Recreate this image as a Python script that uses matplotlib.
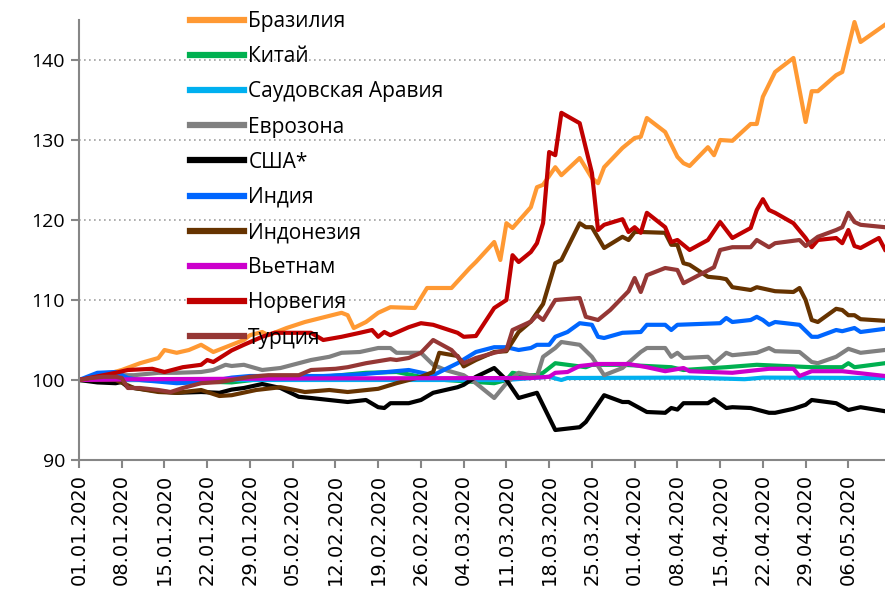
import datetime as dt

import matplotlib
matplotlib.use("Agg")
import matplotlib.pyplot as plt

# day offsets from 01.01.2020 and index values (01.01.2020 = 100)
start = dt.date(2020, 1, 1)

brazil_days = [0, 3, 7, 10, 13, 14, 16, 18, 20, 22, 25, 27, 28, 30, 31, 34, 37, 43, 44, 45,
               47, 49, 51, 55, 57, 61, 64, 65, 68, 69, 70, 71, 74, 75, 76, 78, 79, 82, 84, 85,
               86, 89, 91, 92, 93, 96, 98, 99, 100, 103, 104, 105, 107, 110, 111, 112, 114,
               117, 119, 120, 121, 124, 125, 127, 128, 132]
brazil_vals = [100, 100.4, 101.25, 102.1, 102.75, 103.75, 103.4, 103.75, 104.4, 103.5, 104.4,
               105, 105.6, 106, 105.6, 106.5, 107.25, 108.4, 108.1, 106.5, 107.25, 108.4, 109.1,
               109, 111.5, 111.5, 114, 114.75, 117.25, 115, 119.6, 119, 121.6, 124.1, 124.4,
               126.6, 125.6, 127.75, 125.25, 124.6, 126.6, 129, 130.25, 130.4, 132.75, 131,
               127.9, 127.1, 126.75, 129.1, 128.1, 130, 129.9, 132, 132, 135.4, 138.5, 140.25,
               132.25, 136.1, 136.1, 138.1, 138.5, 144.75, 142.25, 144.4]

china_days = [0, 10, 20, 25, 33, 40, 47, 52, 56, 60, 65, 68, 70, 71, 73, 75, 76, 78, 83, 84,
              89, 97, 99, 106, 111, 120, 125, 126, 127, 132]
china_vals = [100, 100, 99.8, 99.7, 100.4, 100.4, 100.9, 101, 100.4, 100, 99.75, 99.6, 100,
              100.9, 100.6, 100.6, 100.9, 102.1, 101.6, 101.9, 101.9, 101.6, 101.25, 101.6,
              101.9, 101.6, 101.6, 102.1, 101.6, 102.1]

saudi_days = [0, 40, 70, 75, 77, 79, 80, 100, 109, 112, 132]
saudi_vals = [100, 100, 100, 100.3, 100.4, 100, 100.25, 100.3, 100.1, 100.3, 100.25]

euro_days = [0, 6, 9, 13, 16, 20, 22, 24, 25, 27, 30, 33, 38, 41, 43, 46, 49, 51, 52, 56, 58,
             60, 63, 65, 68, 70, 72, 75, 76, 78, 79, 82, 84, 86, 89, 92, 93, 96, 97, 98, 99,
             103, 104, 106, 107, 111, 113, 114, 118, 120, 121, 124, 126, 128, 132]
euro_vals = [100, 100.6, 100.6, 100.9, 100.9, 101, 101.25, 101.9, 101.75, 101.9, 101.25, 101.5,
             102.5, 102.9, 103.4, 103.5, 104, 104, 103.4, 103.4, 101.9, 101.25, 100.6, 99.6,
             97.75, 99.6, 100.9, 100.4, 102.9, 104, 104.75, 104.4, 102.9, 100.6, 101.5, 103.5,
             104, 104, 102.9, 103.4, 102.75, 102.9, 102.1, 103.4, 103.1, 103.4, 104, 103.6,
             103.5, 102.25, 102.1, 102.9, 103.9, 103.4, 103.75]

usa_days = [0, 3, 6, 7, 8, 13, 16, 20, 23, 25, 27, 30, 33, 36, 38, 41, 44, 47, 49, 50, 51, 54,
            56, 58, 62, 63, 65, 68, 70, 72, 75, 78, 82, 83, 86, 89, 90, 93, 96, 97, 98, 99,
            103, 104, 106, 107, 110, 113, 114, 117, 119, 120, 124, 126, 128, 132]
usa_vals = [100, 99.7, 99.6, 99.75, 99.1, 98.6, 98.4, 98.5, 98.4, 98.8, 99, 99.5, 99, 97.9,
            97.75, 97.5, 97.25, 97.5, 96.6, 96.5, 97.1, 97.1, 97.5, 98.4, 99.1, 99.4, 100.4,
            101.5, 100, 97.75, 98.4, 93.75, 94.1, 94.75, 98.1, 97.25, 97.25, 96, 95.9, 96.5,
            96.3, 97.1, 97.1, 97.6, 96.5, 96.6, 96.5, 95.9, 95.9, 96.4, 96.9, 97.5, 97.1,
            96.25, 96.6, 96.1]

india_days = [0, 3, 6, 8, 10, 16, 21, 25, 28, 35, 40, 46, 49, 54, 58, 62, 65, 68, 70, 72, 74,
              75, 77, 78, 80, 82, 84, 85, 86, 89, 92, 93, 96, 97, 98, 105, 106, 107, 110, 111,
              112, 113, 114, 118, 120, 121, 124, 125, 127, 128, 132]
india_vals = [100, 100.9, 101, 100.25, 100, 99.6, 99.75, 100.3, 100.5, 100.5, 100.5, 100.7,
              100.9, 101.25, 100.6, 102.1, 103.5, 104.1, 104.1, 103.75, 104, 104.4, 104.4, 105.4,
              106, 107.1, 106.9, 105.4, 105.25, 105.9, 106, 106.9, 106.9, 106.25, 106.9, 107.1,
              107.75, 107.25, 107.5, 107.9, 107.5, 106.9, 107.25, 106.9, 105.4, 105.4, 106.25,
              106.1, 106.5, 106, 106.4]

indonesia_days = [0, 3, 6, 9, 13, 16, 20, 23, 25, 29, 33, 37, 41, 44, 49, 52, 56, 58, 59, 62,
                  63, 65, 68, 70, 72, 74, 76, 78, 79, 82, 83, 84, 86, 89, 90, 91, 92, 96, 97,
                  98, 99, 100, 103, 105, 106, 107, 110, 111, 114, 117, 118, 119, 120, 121, 124,
                  125, 126, 127, 128, 132]
indonesia_vals = [100, 100, 100, 99, 98.5, 98.4, 98.75, 98, 98.1, 98.75, 99.1, 98.5, 98.75,
                  98.5, 98.9, 99.6, 100.4, 101, 103.4, 103, 101.7, 102.5, 103.5, 103.6, 106,
                  107.3, 109.5, 114.6, 115, 119.6, 119.1, 119.1, 116.5, 117.9, 117.5, 118.5,
                  118.5, 118.4, 116.9, 116.9, 114.6, 114.4, 112.9, 112.75, 112.6, 111.6, 111.25,
                  111.6, 111.1, 111, 111.5, 110, 107.5, 107.25, 108.9, 108.75, 108.1, 108.1,
                  107.6, 107.4]

vietnam_days = [0, 10, 40, 74, 77, 78, 80, 82, 85, 90, 93, 96, 99, 100, 107, 113, 117, 118,
                120, 125, 132]
vietnam_vals = [100, 100.1, 100.2, 100.25, 100.4, 100.9, 101, 101.75, 102, 102, 101.6, 101.1,
                101.5, 101.1, 100.9, 101.4, 101.4, 100.5, 101.1, 101.1, 100.5]

norway_days = [0, 6, 8, 12, 14, 17, 20, 21, 22, 25, 27, 30, 32, 38, 40, 43, 46, 48, 49, 50, 51,
               54, 56, 58, 62, 63, 65, 68, 70, 71, 72, 74, 75, 76, 77, 78, 79, 82, 84, 85, 86,
               89, 90, 91, 92, 93, 96, 97, 98, 100, 103, 105, 107, 110, 111, 112, 113, 114,
               117, 119, 120, 121, 124, 125, 126, 127, 128, 131, 132]
norway_vals = [100, 100.9, 101.25, 101.4, 101, 101.6, 101.9, 102.5, 102.25, 103.7, 104.4, 105.4,
               105.9, 105.9, 105, 105.4, 105.9, 106.25, 105.4, 106, 105.6, 106.6, 107.1, 106.9,
               105.9, 105.4, 105.5, 109, 110, 115.6, 114.75, 116, 117.1, 119.6, 128.5, 128.1,
               133.4, 132.1, 125.9, 118.75, 119.4, 120.1, 118.5, 119.1, 118.4, 120.9, 119.1,
               117.25, 117.5, 116.25, 117.5, 119.75, 117.75, 119, 121.25, 122.6, 121.25, 120.9,
               119.6, 117.75, 116.6, 117.5, 117.75, 117.1, 118.75, 116.75, 116.5, 117.75, 116.3]

turkey_days = [0, 2, 4, 6, 7, 8, 10, 13, 15, 17, 20, 23, 25, 28, 31, 36, 38, 42, 44, 47, 51,
               52, 54, 56, 58, 61, 63, 65, 68, 70, 71, 74, 75, 76, 78, 82, 83, 85, 87, 90, 91,
               92, 93, 96, 98, 99, 104, 105, 107, 110, 111, 113, 114, 118, 119, 121, 124, 125,
               126, 127, 128, 132]
turkey_vals = [100, 100.25, 100.4, 100.4, 100.25, 99, 99, 98.75, 98.5, 99, 99.6, 99.75, 100,
               100.4, 100.6, 100.6, 101.25, 101.4, 101.6, 102.1, 102.6, 102.5, 102.75, 103.4,
               105, 103.75, 102.1, 102.75, 103.4, 103.75, 106.25, 107.3, 108.1, 107.5, 110,
               110.25, 107.9, 107.5, 108.75, 111.1, 112.75, 111, 113.1, 114, 113.75, 112.1,
               114.1, 116.25, 116.6, 116.6, 117.5, 116.6, 117.1, 117.5, 116.75, 117.9, 118.75,
               119.1, 120.9, 119.75, 119.4, 119.1]

names = ["Бразилия", "Китай", "Саудовская Аравия", "Еврозона", "США*", "Индия",
         "Индонезия", "Вьетнам", "Норвегия", "Турция"]
colors = ["#FF9933", "#00B050", "#00B0F0", "#808080", "#000000", "#0066FF",
          "#663300", "#CC00CC", "#C00000", "#953735"]
series = [(brazil_days, brazil_vals), (china_days, china_vals), (saudi_days, saudi_vals),
          (euro_days, euro_vals), (usa_days, usa_vals), (india_days, india_vals),
          (indonesia_days, indonesia_vals), (vietnam_days, vietnam_vals),
          (norway_days, norway_vals), (turkey_days, turkey_vals)]

tick_days = list(range(0, 127, 7))
tick_labels = [(start + dt.timedelta(days=d)).strftime("%d.%m.%Y") for d in tick_days]

fig = plt.figure(figsize=(8.85, 6), dpi=100)
ax = fig.add_axes([79 / 885, 140 / 600, 806 / 885, 440 / 600])

for (days, vals), name, color in zip(series, names, colors):
    ax.plot(days, vals, color=color, lw=3.0, label=name, solid_joinstyle="round")

ax.set_xlim(0, 132)
ax.set_ylim(90, 145)
ax.set_yticks(range(90, 141, 10))
ax.set_xticks(tick_days)
ax.set_xticklabels(tick_labels, rotation=90, fontsize=14, family="DejaVu Sans")
for lbl in ax.get_yticklabels():
    lbl.set_fontfamily(["Open Sans", "DejaVu Sans"])
    lbl.set_fontsize(14)

ax.yaxis.grid(True, linestyle=(0, (1, 2)), color="#A0A0A0", lw=1.2)
ax.set_axisbelow(True)
for side in ("top", "right"):
    ax.spines[side].set_visible(False)
for side in ("left", "bottom"):
    ax.spines[side].set_color("#868686")
    ax.spines[side].set_linewidth(1.5)
ax.tick_params(axis="both", direction="out", length=6, width=1.5, color="#868686", pad=4)

# legend sits inside the plot, no frame
leg = fig.legend(loc="upper left", bbox_to_anchor=(190 / 885, 1 - 11 / 600),
                 frameon=False, prop={"family": ["Open Sans", "DejaVu Sans"], "size": 15},
                 handlelength=2.6, handletextpad=0.2, labelspacing=0.68,
                 borderaxespad=0, borderpad=0)
for h in leg.legend_handles:
    h.set_linewidth(4.5)

fig.savefig("out.png", dpi=100)
